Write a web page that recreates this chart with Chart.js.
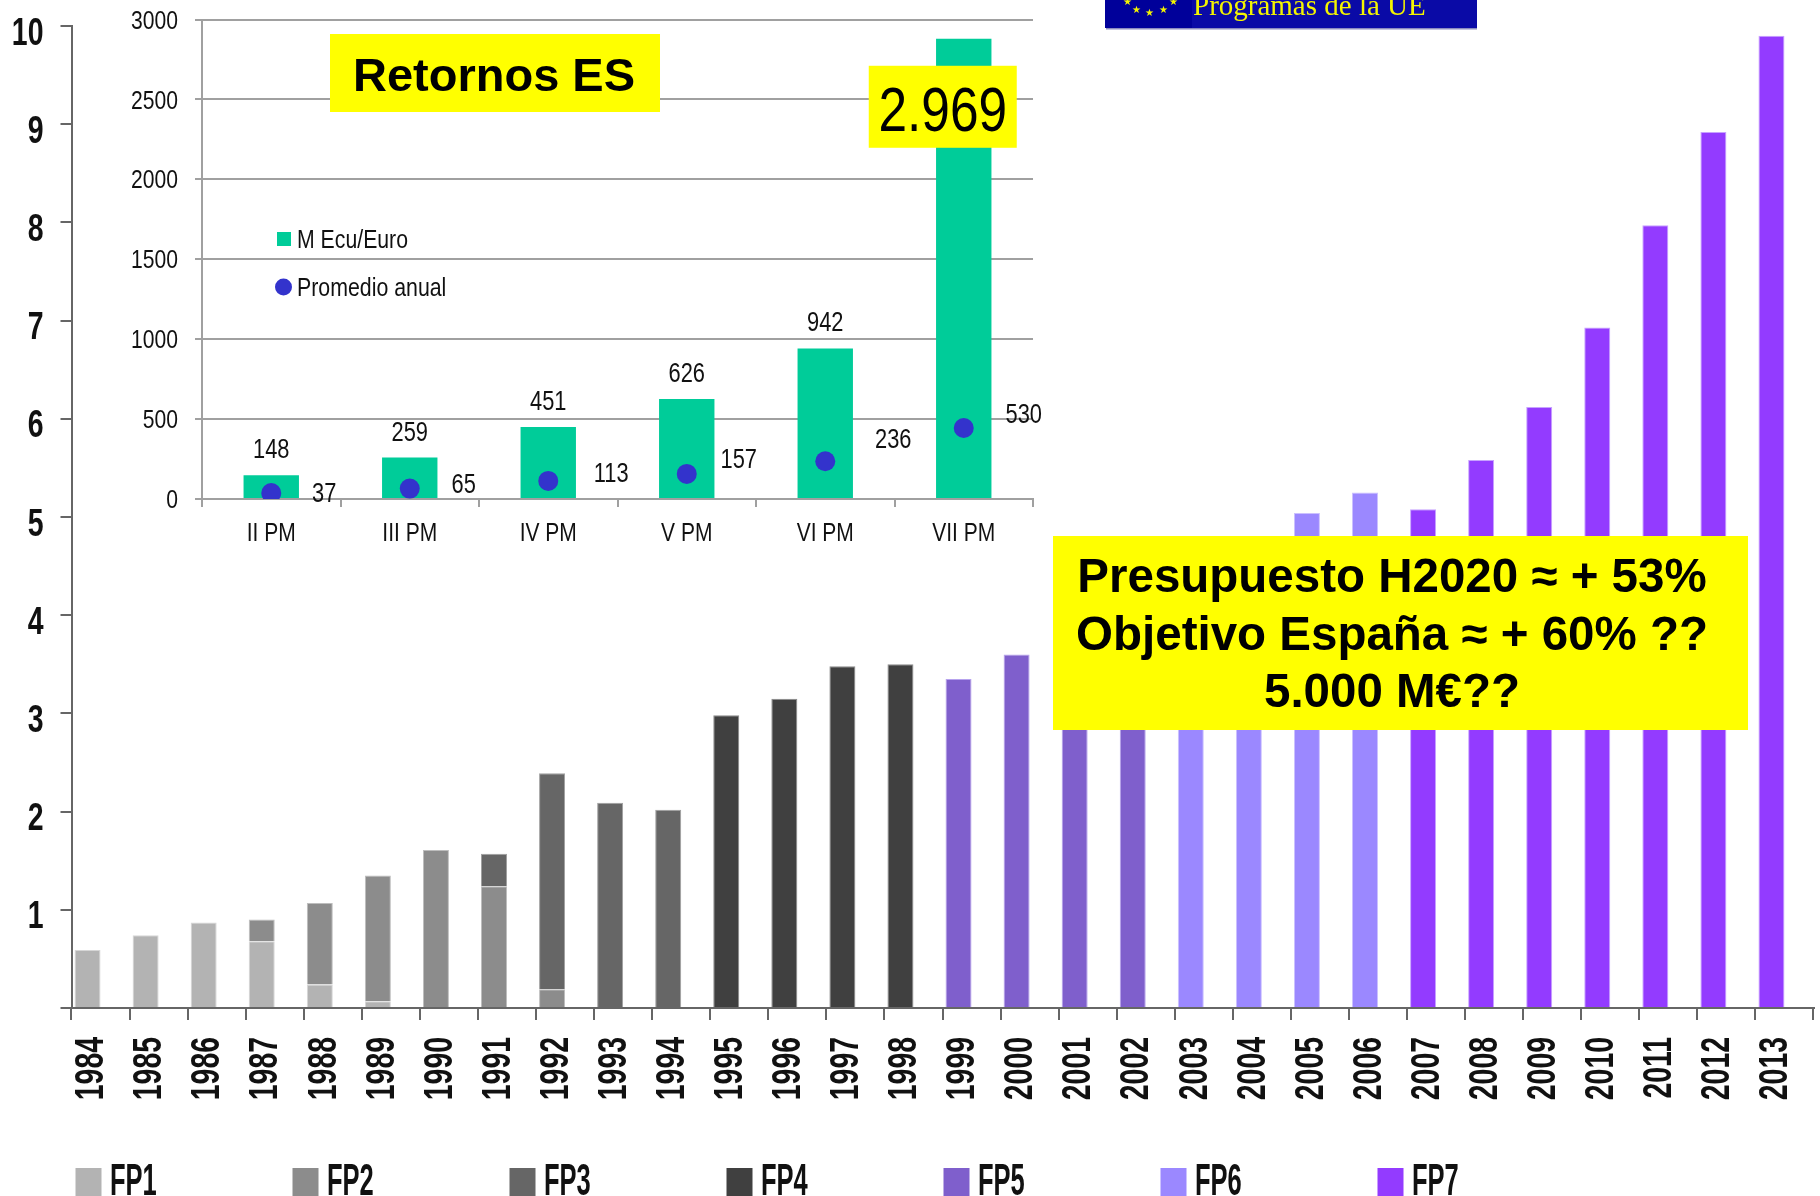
<!DOCTYPE html>
<html>
<head>
<meta charset="utf-8">
<script src="https://cdn.jsdelivr.net/npm/chart.js@4.4.1/dist/chart.umd.min.js"></script>
<style>
  html, body { margin: 0; padding: 0; background: #fff; }
  #wrap { position: relative; width: 1820px; height: 1196px; overflow: hidden; }
  #mainChart, #insetChart { position: absolute; left: 0; top: 0; }
</style>
</head>
<body>
<div id="wrap">
  <canvas id="mainChart" width="1820" height="1196"></canvas>
  <canvas id="insetChart" width="1060" height="560"></canvas>
</div>
<script>
// main chart: EU framework programme budget per year (bn EUR)
const years = ["1984", "1985", "1986", "1987", "1988", "1989", "1990", "1991", "1992", "1993",
  "1994", "1995", "1996", "1997", "1998", "1999", "2000", "2001", "2002", "2003",
  "2004", "2005", "2006", "2007", "2008", "2009", "2010", "2011", "2012", "2013"];
const fp1 = [0.59, 0.74, 0.87, 0.68, 0.24, 0.07, null, null, null, null, null, null, null, null, null,
  null, null, null, null, null, null, null, null, null, null, null, null, null, null, null];
const fp2 = [null, null, null, 0.22, 0.83, 1.28, 1.61, 1.24, 0.19, null, null, null, null, null, null,
  null, null, null, null, null, null, null, null, null, null, null, null, null, null, null];
const fp3 = [null, null, null, null, null, null, null, 0.33, 2.20, 2.09, 2.02, null, null, null, null,
  null, null, null, null, null, null, null, null, null, null, null, null, null, null, null];
const fp4 = [null, null, null, null, null, null, null, null, null, null, null, 2.98, 3.15, 3.48, 3.50,
  null, null, null, null, null, null, null, null, null, null, null, null, null, null, null];
const fp5 = [null, null, null, null, null, null, null, null, null, null, null, null, null, null, null,
  3.35, 3.60, 3.80, 3.90, null, null, null, null, null, null, null, null, null, null, null];
const fp6 = [null, null, null, null, null, null, null, null, null, null, null, null, null, null, null,
  null, null, null, null, 4.20, 4.50, 5.04, 5.25, null, null, null, null, null, null, null];
const fp7 = [null, null, null, null, null, null, null, null, null, null, null, null, null, null, null,
  null, null, null, null, null, null, null, null, 5.08, 5.58, 6.12, 6.93, 7.97, 8.92, 9.90];
const fpNames = ["FP1", "FP2", "FP3", "FP4", "FP5", "FP6", "FP7"];
const fpColors = ["#b3b3b3", "#8c8c8c", "#666666", "#404040", "#7f5fcc", "#9b88ff", "#933bff"];
const fpEdges = ["#d6d6d6", "#bdbdbd", "#a0a0a0", "#8a8a8a", "#b7a3ee", "#cbc0ff", "#c7a2ff"];

// inset: returns to Spain per framework programme (M Ecu/Euro)
const programas = ["II PM", "III PM", "IV PM", "V PM", "VI PM", "VII PM"];
const retornos = [148, 259, 451, 626, 942, 2880];
const promedio = [37, 65, 113, 157, 236, 444];
const retornosLabels = ["148", "259", "451", "626", "942", "2.969"];
const promedioLabels = ["37", "65", "113", "157", "236", "530"];

const notaLines = ["Presupuesto H2020 \u2248 + 53%", "Objetivo Espa\u00f1a \u2248 + 60% ??", "5.000 M\u20ac??"];

const SANS = '"Liberation Sans", Arial, sans-serif';

// condensed text: Liberation Sans squeezed along the text direction
function drawText(ctx, text, x, y, o) {
  ctx.save();
  ctx.translate(x, y);
  if (o.rotate) ctx.rotate(o.rotate);
  ctx.scale(o.sx || 1, 1);
  ctx.font = (o.weight || "normal") + " " + o.size + "px " + SANS;
  ctx.textAlign = o.align || "left";
  ctx.textBaseline = "alphabetic";
  ctx.fillStyle = o.color || "#111";
  ctx.fillText(text, 0, 0);
  ctx.restore();
}

// overlays for the main chart: axis labels, legend, banner and the yellow note
const mainOverlay = {
  id: "mainOverlay",
  afterDraw(chart) {
    const ctx = chart.ctx;
    const xS = chart.scales.x;
    const yS = chart.scales.y;

    yS.ticks.forEach(t => {
      if (t.value === 0) return;
      const py = yS.getPixelForValue(t.value);
      drawText(ctx, String(t.value), yS.right - 28, py + 18.6, { size: 39.5, weight: "bold", sx: 0.72, align: "right" });
    });
    years.forEach((yr, i) => {
      const px = xS.getPixelForTick(i) - 11.6;
      drawText(ctx, yr, px + 14.3, xS.top + 29, { size: 40, weight: "bold", sx: 0.71, align: "right", rotate: -Math.PI / 2 });
    });

    ctx.save();
    // legend at the bottom
    fpNames.forEach((name, i) => {
      const x = 75.5 + i * 217;
      ctx.fillStyle = fpColors[i];
      ctx.fillRect(x, 1168, 26, 28);
      drawText(ctx, name, x + 34.5, 1195, { size: 44.7, weight: "bold", sx: 0.57 });
    });

    // banner at the top
    ctx.fillStyle = "#0a0aa6";
    ctx.fillRect(1105, 0, 372, 28);
    ctx.fillStyle = "#00009a";
    ctx.fillRect(1105, 0, 87, 28);
    ctx.fillStyle = "#8a8ac0";
    ctx.fillRect(1106, 28, 371, 1.5);
    ctx.fillStyle = "#f4f400";
    ctx.font = "10px " + SANS;
    ctx.textAlign = "center";
    ctx.textBaseline = "middle";
    [[1127, 2], [1173, 2], [1136, 10], [1149, 13], [1163, 10]].forEach(p => ctx.fillText("\u2605", p[0], p[1]));
    ctx.font = '29px "Liberation Serif", "Times New Roman", serif';
    ctx.textAlign = "left";
    ctx.textBaseline = "alphabetic";
    ctx.fillText("Programas de la UE", 1193, 15);

    // yellow note
    ctx.fillStyle = "#ffff00";
    ctx.fillRect(1053, 536, 695, 194);
    ctx.fillStyle = "#000";
    ctx.font = "bold 47.5px " + SANS;
    ctx.textAlign = "center";
    notaLines.forEach((t, k) => ctx.fillText(t, 1392, 592 + k * 57.5));
    ctx.restore();
  }
};

const mainDatasets = fpNames.map((name, i) => ({
  label: name,
  data: [fp1, fp2, fp3, fp4, fp5, fp6, fp7][i],
  backgroundColor: fpColors[i],
  borderColor: fpEdges[i],
  borderWidth: 1,
  stack: "fp"
}));
// empty stack so the bars sit on the left half of each year slot
mainDatasets.push({ label: "", data: years.map(() => 0), backgroundColor: "rgba(0,0,0,0)", borderWidth: 0, stack: "gap" });

new Chart(document.getElementById("mainChart"), {
  type: "bar",
  data: { labels: years, datasets: mainDatasets },
  options: {
    responsive: false,
    animation: false,
    devicePixelRatio: 1,
    categoryPercentage: 0.8955,
    barPercentage: 1,
    layout: { padding: { top: 26, right: 6.5, left: 0, bottom: 0 } },
    plugins: { legend: { display: false }, tooltip: { enabled: false } },
    scales: {
      x: {
        offset: true,
        afterFit: s => { s.height = 188; },
        border: { color: "#666", width: 2 },
        grid: { offset: true, drawOnChartArea: false, tickLength: 12, color: "#666", lineWidth: 2 },
        ticks: { display: false, autoSkip: false }
      },
      y: {
        stacked: true,
        min: 0,
        max: 10,
        afterFit: s => { s.width = 71.5; },
        border: { color: "#666", width: 2 },
        grid: { drawOnChartArea: false, tickLength: 11, color: "#666", lineWidth: 2 },
        ticks: { display: false, stepSize: 1 }
      }
    }
  },
  plugins: [mainOverlay]
});

// where each average label sits, relative to its dot
const dotLabelShift = [[53, -1], [54, -6], [63, -9], [52, -16], [68, -23], [60, -15]];

// labels, legend and title box of the inset chart
const insetOverlay = {
  id: "insetOverlay",
  afterDatasetsDraw(chart) {
    const ctx = chart.ctx;
    const xS = chart.scales.x;
    const yS = chart.scales.y;

    yS.ticks.forEach(t => {
      drawText(ctx, String(t.value), yS.right - 24, yS.getPixelForValue(t.value) + 9, { size: 25, sx: 0.845, align: "right" });
    });
    programas.forEach((p, i) => {
      drawText(ctx, p, xS.getPixelForTick(i), xS.top + 42, { size: 25, sx: 0.84, align: "center" });
    });

    const bars = chart.getDatasetMeta(1).data;
    bars.forEach((bar, i) => {
      if (i === bars.length - 1) return;
      drawText(ctx, retornosLabels[i], bar.x, bar.y - 17, { size: 28, sx: 0.78, align: "center" });
    });
    chart.getDatasetMeta(0).data.forEach((pt, i) => {
      const s = dotLabelShift[i];
      drawText(ctx, promedioLabels[i], pt.x + s[0], pt.y + s[1] + 10, { size: 28, sx: 0.78, align: "center" });
    });

    ctx.save();
    // highlighted total of the last programme
    const last = bars[bars.length - 1];
    ctx.fillStyle = "#ffff00";
    ctx.fillRect(last.x - 95, last.y + 27, 148, 82);
    drawText(ctx, retornosLabels[bars.length - 1], last.x - 21, last.y + 92, { size: 63.5, sx: 0.81, align: "center", color: "#000" });

    // title box
    ctx.fillStyle = "#ffff00";
    ctx.fillRect(330, 34, 330, 78);
    drawText(ctx, "Retornos ES", 494, 91, { size: 47, weight: "bold", align: "center", color: "#000" });

    // legend
    ctx.fillStyle = "#00cc99";
    ctx.fillRect(277, 232, 14, 14);
    ctx.fillStyle = "#3333cc";
    ctx.beginPath();
    ctx.arc(283.5, 287, 8.5, 0, Math.PI * 2);
    ctx.fill();
    ctx.restore();
    drawText(ctx, "M Ecu/Euro", 297, 248, { size: 25, sx: 0.85 });
    drawText(ctx, "Promedio anual", 297, 296, { size: 26, sx: 0.82 });
  }
};

new Chart(document.getElementById("insetChart"), {
  type: "bar",
  data: {
    labels: programas,
    datasets: [
      {
        type: "line",
        label: "Promedio anual",
        data: promedio,
        showLine: false,
        pointRadius: 10,
        pointBackgroundColor: "#3333cc",
        pointBorderWidth: 0,
        order: 0
      },
      {
        label: "M Ecu/Euro",
        data: retornos,
        backgroundColor: "#00cc99",
        categoryPercentage: 0.4,
        barPercentage: 1,
        order: 1
      }
    ]
  },
  options: {
    responsive: false,
    animation: false,
    devicePixelRatio: 1,
    layout: { padding: { top: 19.6, right: 27, left: 0, bottom: 0 } },
    plugins: { legend: { display: false }, tooltip: { enabled: false } },
    scales: {
      x: {
        afterFit: s => { s.height = 61; },
        border: { color: "#a0a0a0", width: 2 },
        grid: { offset: true, drawOnChartArea: false, tickLength: 8, color: "#a0a0a0", lineWidth: 2 },
        ticks: { display: false }
      },
      y: {
        min: 0,
        max: 3000,
        afterFit: s => { s.width = 202; },
        border: { color: "#a0a0a0", width: 2 },
        grid: { tickLength: 7, color: "#a0a0a0", lineWidth: 2 },
        ticks: { display: false, stepSize: 500 }
      }
    }
  },
  plugins: [insetOverlay]
});
</script>
</body>
</html>
